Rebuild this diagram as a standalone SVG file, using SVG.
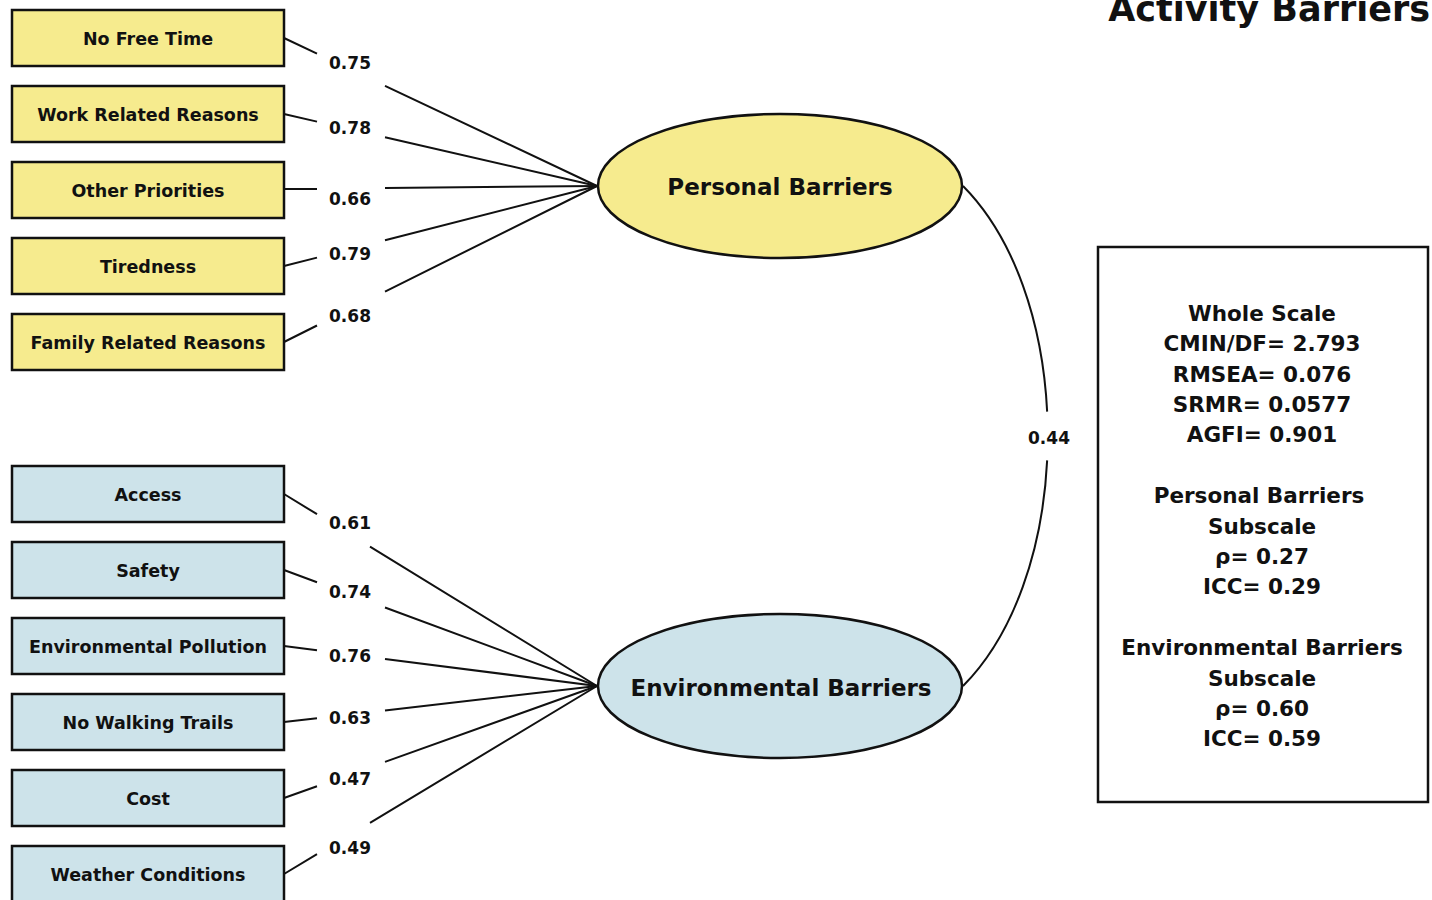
<svg xmlns="http://www.w3.org/2000/svg" width="1432" height="900" viewBox="0 0 1432 900">
  <style>
    text { font-family: "DejaVu Sans", Verdana, sans-serif; font-weight: bold; fill: #111; }
    .obs text, .item { font-size: 17.5px; text-anchor: middle; }
    .yellow { fill: #f6eb8e; stroke: #111; stroke-width: 2.5; }
    .blue { fill: #cde3ea; stroke: #111; stroke-width: 2.5; }
    .latent-text { font-size: 23px; text-anchor: middle; }
    .load { font-size: 17px; text-anchor: middle; }
    .edge { stroke: #111; stroke-width: 2; fill: none; }
    .fit { font-size: 21.5px; text-anchor: middle; }
  </style>

  <rect width="1432" height="900" fill="#ffffff"/>

  <!-- title -->
  <text x="1430" y="21" font-size="35" text-anchor="end">Activity Barriers</text>

  <!-- connectors: loadings split around their labels, plus the covariance curve -->
  <g id="connectors">
    <!-- personal barriers indicators -->
    <path class="edge" d="M284,38 L317,53.6 M385,85.8 L597,186"/>
    <path class="edge" d="M284,114 L317,121.6 M385,137.2 L597,186"/>
    <path class="edge" d="M284,189 L317,189 M385,188 L597,186"/>
    <path class="edge" d="M284,266 L317,257.6 M385,240.2 L597,186"/>
    <path class="edge" d="M284,342 L317,325.5 M385,291.6 L597,186"/>
    <!-- environmental barriers indicators -->
    <path class="edge" d="M284,494 L317,514.2 M370,546.7 L597,686"/>
    <path class="edge" d="M284,570 L317,582.2 M385,607.5 L597,686"/>
    <path class="edge" d="M284,646 L317,650.2 M385,658.9 L597,686"/>
    <path class="edge" d="M284,722 L317,718.2 M385,710.4 L597,686"/>
    <path class="edge" d="M284,798 L317,786.2 M385,761.9 L597,686"/>
    <path class="edge" d="M284,874 L317,854.2 M370,822.8 L597,686"/>
    <!-- covariance between the two factors -->
    <path class="edge" d="M963,186 C1076,300 1076,572 963,686" pathLength="1000" stroke-dasharray="455 90 455"/>
  </g>

  <!-- loading labels -->
  <g id="loadings">
    <text class="load" x="350" y="69">0.75</text>
    <text class="load" x="350" y="134">0.78</text>
    <text class="load" x="350" y="205">0.66</text>
    <text class="load" x="350" y="260">0.79</text>
    <text class="load" x="350" y="322">0.68</text>
    <text class="load" x="350" y="529">0.61</text>
    <text class="load" x="350" y="598">0.74</text>
    <text class="load" x="350" y="662">0.76</text>
    <text class="load" x="350" y="724">0.63</text>
    <text class="load" x="350" y="785">0.47</text>
    <text class="load" x="350" y="854">0.49</text>
    <text class="load" x="1049" y="444">0.44</text>
  </g>

  <!-- observed items: personal -->
  <g id="no-free-time" class="obs"><rect class="yellow" x="12" y="10" width="272" height="56"/><text x="148" y="44.5">No Free Time</text></g>
  <g id="work-related" class="obs"><rect class="yellow" x="12" y="86" width="272" height="56"/><text x="148" y="120.5">Work Related Reasons</text></g>
  <g id="other-priorities" class="obs"><rect class="yellow" x="12" y="162" width="272" height="56"/><text x="148" y="196.5">Other Priorities</text></g>
  <g id="tiredness" class="obs"><rect class="yellow" x="12" y="238" width="272" height="56"/><text x="148" y="272.5">Tiredness</text></g>
  <g id="family-related" class="obs"><rect class="yellow" x="12" y="314" width="272" height="56"/><text x="148" y="348.5">Family Related Reasons</text></g>

  <!-- observed items: environmental -->
  <g id="access" class="obs"><rect class="blue" x="12" y="466" width="272" height="56"/><text x="148" y="500.5">Access</text></g>
  <g id="safety" class="obs"><rect class="blue" x="12" y="542" width="272" height="56"/><text x="148" y="576.5">Safety</text></g>
  <g id="pollution" class="obs"><rect class="blue" x="12" y="618" width="272" height="56"/><text x="148" y="652.5">Environmental Pollution</text></g>
  <g id="walking-trails" class="obs"><rect class="blue" x="12" y="694" width="272" height="56"/><text x="148" y="728.5">No Walking Trails</text></g>
  <g id="cost" class="obs"><rect class="blue" x="12" y="770" width="272" height="56"/><text x="148" y="804.5">Cost</text></g>
  <g id="weather" class="obs"><rect class="blue" x="12" y="846" width="272" height="56"/><text x="148" y="880.5">Weather Conditions</text></g>

  <!-- latent factors -->
  <g id="personal-barriers">
    <ellipse class="yellow" cx="780" cy="186" rx="182" ry="72"/>
    <text class="latent-text" x="780" y="195">Personal Barriers</text>
  </g>
  <g id="environmental-barriers">
    <ellipse class="blue" cx="780" cy="686" rx="182" ry="72"/>
    <text class="latent-text" x="781" y="696">Environmental Barriers</text>
  </g>

  <!-- fit indices -->
  <g id="fit-box">
    <rect x="1098" y="247" width="330" height="555" fill="#ffffff" stroke="#111" stroke-width="2.5"/>
    <text class="fit" x="1262" y="321">Whole Scale</text>
    <text class="fit" x="1262" y="351">CMIN/DF= 2.793</text>
    <text class="fit" x="1262" y="382">RMSEA= 0.076</text>
    <text class="fit" x="1262" y="412">SRMR= 0.0577</text>
    <text class="fit" x="1262" y="442">AGFI= 0.901</text>
    <text class="fit" x="1259" y="503">Personal Barriers</text>
    <text class="fit" x="1262" y="534">Subscale</text>
    <text class="fit" x="1262" y="564">ρ= 0.27</text>
    <text class="fit" x="1262" y="594">ICC= 0.29</text>
    <text class="fit" x="1262" y="655">Environmental Barriers</text>
    <text class="fit" x="1262" y="686">Subscale</text>
    <text class="fit" x="1262" y="716">ρ= 0.60</text>
    <text class="fit" x="1262" y="746">ICC= 0.59</text>
  </g>
</svg>
